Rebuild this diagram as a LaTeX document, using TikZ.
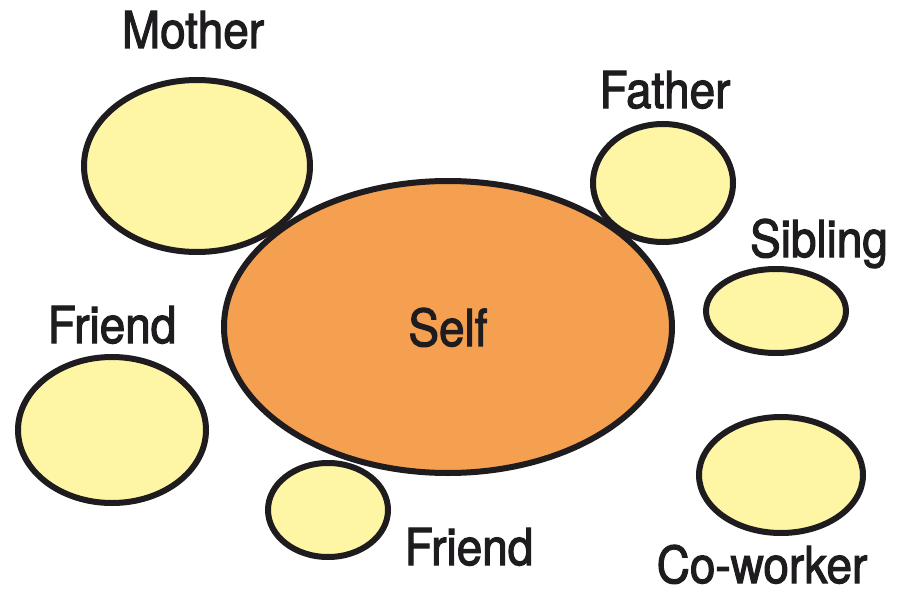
\documentclass[tikz,border=0pt]{standalone}
\usepackage{fontspec}
\setmainfont{TeX Gyre Heros}[FakeStretch=0.9, FakeBold=2.2]
\usepackage{tikz}
\usetikzlibrary{shapes.geometric}

\definecolor{selffill}{RGB}{245,160,80}
\definecolor{otherfill}{RGB}{255,246,165}
\definecolor{inkdark}{RGB}{30,28,30}

\tikzset{
  every blob/.style={ellipse, draw=inkdark, line width=6pt, inner sep=0pt},
  blob self/.style={fill=selffill},
  blob other/.style={fill=otherfill},
  every tag/.style={anchor=base, text=inkdark, font=\fontsize{51}{51}\selectfont}
}

\begin{document}
\begin{tikzpicture}[x=1pt, y=-1pt]
\useasboundingbox (0,0) rectangle (897,594);

% the others around self
\foreach \n/\x/\y/\rx/\ry in {mother/197/166/113/86, father/663/183/70/59,
  sibling/776/311/70/42, friendl/112/430/94/73, friendb/328/510/60/47,
  coworker/781/475/82/58}
  \node [every blob/.try, blob other/.try, minimum width=2*\rx, minimum height=2*\ry]
    (\n) at (\x,\y) {};

% self on top
\node [every blob/.try, blob self/.try, minimum width=448, minimum height=292]
  (self) at (448,327) {};

\foreach \n/\t/\x/\y in {mother/Mother/193/48, father/Father/665/108,
  sibling/Sibling/819/257, friendl/Friend/112/343, self/Self/448/346,
  friendb/Friend/469/565, coworker/Co-worker/762/583}
  \node [every tag/.try] (tag-\n) at (\x,\y) {\t};

\end{tikzpicture}
\end{document}
